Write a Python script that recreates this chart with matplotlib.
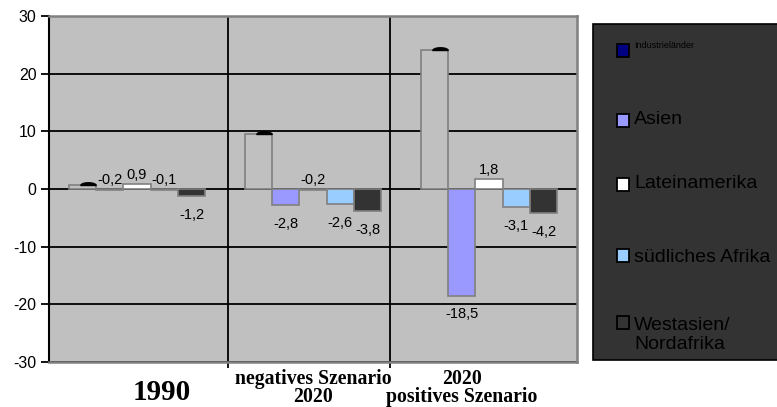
import numpy as np
import matplotlib
matplotlib.use("Agg")
import matplotlib.pyplot as plt
from matplotlib.patches import Rectangle
from matplotlib.path import Path

# ---- data ----
categories = ["1990", "negatives Szenario\n2020", "2020\npositives Szenario"]
series_names = ["Industrieländer", "Asien", "Lateinamerika", "südliches Afrika", "Westasien/\nNordafrika"]
industrielaender = [0.7, 9.6, 24.1]
asien = [-0.2, -2.8, -18.5]
lateinamerika = [0.9, -0.2, 1.8]
suedliches_afrika = [-0.1, -2.6, -3.1]
westasien_nordafrika = [-1.2, -3.8, -4.2]
labelled = [False, True, True, True, True]
y_ticks = [-30, -20, -10, 0, 10, 20, 30]

series_values = [industrielaender, asien, lateinamerika, suedliches_afrika, westasien_nordafrika]
bar_colors = ["#c0c0c0", "#9999ff", "#ffffff", "#99ccff", "#333333"]
legend_colors = ["#000080", "#9999ff", "#ffffff", "#99ccff", "#333333"]

W, H = 777, 407
fig = plt.figure(figsize=(W / 100, H / 100), dpi=100)
fig.patch.set_facecolor("white")

def fx(px):
    return px / W

def fy(py):
    return 1 - py / H

sans = ["Liberation Sans", "DejaVu Sans"]

ax = fig.add_axes([fx(49), fy(362), fx(577) - fx(49), fy(16) - fy(362)])
ax.set_facecolor("#c0c0c0")
ax.set_xlim(-0.5, 2.5)
ax.set_ylim(-30, 30)

label_font = dict(family=sans, size=10.5, color="black")

x = np.arange(len(categories))
bw = 0.155
for i, (vals, col) in enumerate(zip(series_values, bar_colors)):
    xs = x + (i - 2) * bw
    ax.bar(xs, vals, width=bw, color=col, edgecolor="#808080", linewidth=1.2, zorder=2)
    if labelled[i]:
        for xi, v in zip(xs, vals):
            txt = f"{v:.1f}".replace(".", ",")
            if v > -0.5:
                ax.annotate(txt, (xi, max(v, 0)), xytext=(0, 1.5), textcoords="offset points",
                            ha="center", va="bottom", **label_font)
            else:
                ax.annotate(txt, (xi, v), xytext=(0, -8.5), textcoords="offset points",
                            ha="center", va="top", **label_font)

# small dark cap sitting on the first series' bars
t = np.linspace(0, np.pi, 30)
cap_verts = np.column_stack([np.cos(t), 0.36 * np.sin(t)])
cap_verts = np.vstack([cap_verts, [[1, 0]]])
cap = Path(cap_verts, closed=True)
ax.plot(x - 2 * bw + 0.03, industrielaender, linestyle="none", marker=cap,
        markersize=11, color="black", zorder=3)

# grid, separators and axes
ax.set_yticks(y_ticks)
ax.set_yticklabels([str(v) for v in y_ticks])
ax.yaxis.grid(True, color="black", linewidth=1.3, zorder=0.5)
ax.set_axisbelow(True)
separators = [0.517, 1.44]
ax.set_xticks(separators)
ax.set_xticklabels([])
for s in separators:
    ax.axvline(s, color="black", linewidth=1.3, zorder=0.6)
ax.tick_params(axis="x", length=4, width=1.3, color="black", direction="out")
ax.tick_params(axis="y", length=6, width=1.3, color="black", direction="out", pad=3,
               labelsize=11.5)
for lab in ax.get_yticklabels():
    lab.set_family(sans)
for side in ["top", "right", "bottom"]:
    ax.spines[side].set_color("#808080")
    ax.spines[side].set_linewidth(1.8)
ax.spines["left"].set_color("black")
ax.spines["left"].set_linewidth(1.5)

# category labels
serif_bold = dict(family=["Liberation Serif", "DejaVu Serif"], weight="bold", color="black",
                  ha="center", va="center")
fig.text(fx(162), fy(393), categories[0], fontsize=21, **serif_bold)
fig.text(fx(313), fy(388), categories[1], fontsize=14.2, linespacing=0.93, **serif_bold)
fig.text(fx(462), fy(388), categories[2], fontsize=14.2, linespacing=0.93, **serif_bold)

# legend panel
fig.patches.append(Rectangle((fx(593), fy(360)), fx(790) - fx(593), fy(24) - fy(360),
                             transform=fig.transFigure, facecolor="#333333",
                             edgecolor="black", linewidth=1.2, zorder=1))
square_rows = [50, 120, 184, 255, 322]
text_rows = [45, 120, 183, 258, 335]
for name, col, ys, yt in zip(series_names, legend_colors, square_rows, text_rows):
    fig.patches.append(Rectangle((fx(617), fy(ys + 6.5)), fx(12), fy(0) - fy(13),
                                 transform=fig.transFigure, facecolor=col,
                                 edgecolor="black", linewidth=1.3, zorder=2))
    size = 6.5 if name == "Industrieländer" else 14
    fig.text(fx(634), fy(yt), name, fontsize=size, color="black", va="center",
             family=sans, linespacing=1.2)

fig.savefig("out.png", dpi=100)
